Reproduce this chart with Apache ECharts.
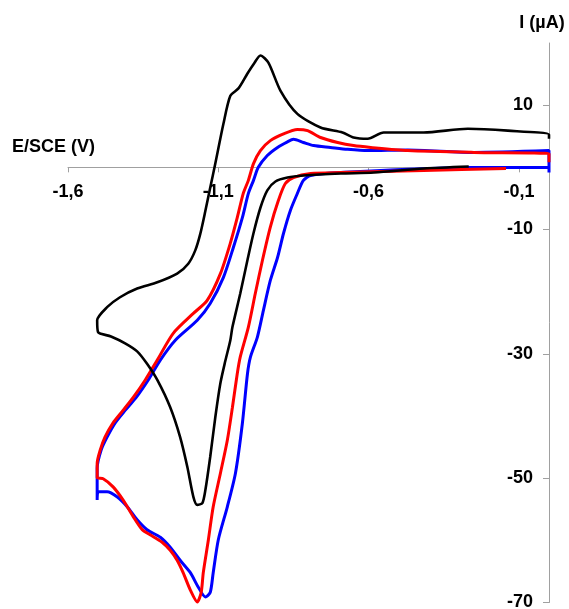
<!DOCTYPE html>
<html>
<head>
<meta charset="utf-8">
<style>
html,body{margin:0;padding:0;background:#fff;}
#chart{width:569px;height:609px;}
</style>
<script src="https://cdn.jsdelivr.net/npm/echarts@6/dist/echarts.min.js"></script>
</head>
<body>
<div id="chart"></div>
<script>
// Tick values
const xTickValues = [-1.6, -1.1, -0.6, -0.1];
const yTickValues = [-70, -50, -30, -10, 10];

// Black curve: potential (V) and current (µA)
const blackE = [-0.267,-0.417,-0.583,-0.693,-0.817,-0.87,-0.91,-0.937,-0.96,-0.983,-1.003,-1.027,-1.053,-1.06,-1.077,-1.093,-1.11,-1.127,-1.143,-1.153,-1.17,-1.183,-1.203,-1.227,-1.26,-1.303,-1.337,-1.37,-1.41,-1.457,-1.5,-1.503,-1.47,-1.427,-1.37,-1.303,-1.237,-1.2,-1.177,-1.16,-1.143,-1.127,-1.11,-1.083,-1.06,-1.033,-1.003,-0.98,-0.96,-0.933,-0.893,-0.837,-0.76,-0.687,-0.65,-0.603,-0.55,-0.417,-0.27,-0.137,0,0];
const blackI = [0.13,-0.19,-0.84,-1.0,-1.32,-1.64,-2.28,-3.7,-6.5,-10.6,-14.9,-20.3,-25.7,-27.8,-31.2,-34.7,-40.2,-46.6,-51.9,-54.0,-54.3,-53.0,-48.2,-43.4,-38.6,-34.2,-31.6,-29.6,-28.3,-27.2,-26.5,-24.6,-22.5,-20.9,-19.5,-18.5,-17.1,-15.5,-13.4,-10.7,-7.0,-3.3,0.6,7.0,11.5,12.7,15.1,16.8,18.0,16.8,12.3,8.6,6.4,5.6,4.8,4.6,5.6,5.6,6.2,5.9,5.3,4.6];

// Red curve
const redE = [-0.143,-0.417,-0.693,-0.793,-0.85,-0.877,-0.9,-0.927,-0.953,-0.977,-1.0,-1.027,-1.037,-1.053,-1.07,-1.093,-1.117,-1.133,-1.15,-1.157,-1.17,-1.193,-1.217,-1.237,-1.26,-1.287,-1.327,-1.353,-1.383,-1.417,-1.45,-1.483,-1.503,-1.503,-1.493,-1.477,-1.45,-1.417,-1.383,-1.343,-1.303,-1.25,-1.183,-1.137,-1.093,-1.06,-1.037,-1.017,-1.0,-0.983,-0.96,-0.927,-0.883,-0.837,-0.803,-0.76,-0.703,-0.65,-0.593,-0.47,-0.25,0,0];
const redI = [-0.19,-0.51,-0.84,-1.0,-1.64,-2.6,-5.3,-9.6,-14.9,-20.3,-25.7,-30.5,-33.2,-38.6,-43.9,-49.2,-54.6,-59.9,-65.2,-68.4,-69.9,-68.0,-65.2,-63.2,-61.6,-60.3,-59.1,-58.3,-56.2,-53.5,-51.4,-50.1,-49.9,-47.6,-45.5,-43.4,-41.1,-39.1,-37.0,-34.2,-31.0,-26.7,-23.5,-21.4,-17.1,-12.2,-8.1,-4.2,-2.1,0.6,2.7,4.3,5.4,6.1,5.9,4.8,4.0,3.5,3.2,2.7,2.4,2.2,0.8];

// Blue curve
const blueE = [0,-0.27,-0.693,-0.793,-0.817,-0.837,-0.86,-0.883,-0.903,-0.927,-0.95,-0.97,-0.993,-1.003,-1.02,-1.043,-1.07,-1.1,-1.117,-1.127,-1.143,-1.167,-1.193,-1.227,-1.26,-1.293,-1.337,-1.37,-1.403,-1.437,-1.47,-1.5,-1.503,-1.503,-1.49,-1.47,-1.443,-1.41,-1.373,-1.333,-1.293,-1.243,-1.17,-1.127,-1.083,-1.05,-1.02,-1.0,-0.983,-0.967,-0.937,-0.903,-0.87,-0.85,-0.817,-0.783,-0.727,-0.67,-0.603,-0.47,-0.25,0,0];
const blueI = [-0.03,-0.03,-0.83,-1.3,-2.1,-4.2,-6.9,-10.6,-14.5,-18.2,-23.0,-27.3,-30.5,-33.2,-41.2,-49.2,-54.6,-59.9,-65.2,-68.4,-69.1,-67.5,-65.2,-63.2,-61.1,-59.5,-58.3,-56.7,-54.6,-53.0,-52.2,-52.2,-53.5,-48.4,-45.5,-43.4,-41.1,-39.1,-37.0,-34.2,-31.0,-27.8,-24.6,-21.9,-17.7,-12.9,-8.1,-4.2,-2.1,0,1.9,3.2,4.1,4.5,4.0,3.5,3.2,2.9,2.7,2.8,2.4,2.7,-0.83];

function pairs(e, i) { return e.map((v, k) => [v, i[k]]); }

const W = 569, H = 609;
const gridTop = 43, gridBottom = 6.5;
const yMin = -70, yMax = 20;
// pixel distance from grid bottom up to the I = 0 line
const zeroOffset = (H - gridTop - gridBottom) * (0 - yMin) / (yMax - yMin);

const chart = echarts.init(document.getElementById('chart'), null, {renderer: 'canvas'});
const labelFont = {color: '#000', fontWeight: 'bold', fontSize: 18, fontFamily: '"Liberation Sans", Arial, sans-serif'};

chart.setOption({
  animation: false,
  grid: {left: 68, right: 20, top: gridTop, bottom: gridBottom, containLabel: false, outerBoundsMode: 'none'},
  xAxis: {
    type: 'value',
    min: xTickValues[0], max: 0,
    interval: 0.5,
    position: 'bottom',
    offset: -zeroOffset,
    name: 'E/SCE (V)',
    nameLocation: 'start',
    nameGap: 56,
    nameTextStyle: Object.assign({}, labelFont, {align: 'left', verticalAlign: 'bottom', padding: [0, 0, 11, 0]}),
    axisLine: {onZero: false, lineStyle: {color: '#a0a0a0', width: 1}},
    axisTick: {show: true, length: 5, lineStyle: {color: '#a0a0a0'}},
    axisLabel: Object.assign({}, labelFont, {show: true, margin: 16, showMaxLabel: false, showMinLabel: true, hideOverlap: false,
      formatter: function (v) { return String(Math.round(v * 10) / 10).replace('.', ','); }}),
    splitLine: {show: false}
  },
  yAxis: {
    type: 'value',
    min: yMin, max: yMax,
    position: 'right',
    name: 'I (µA)',
    nameLocation: 'end',
    nameGap: 11,
    nameTextStyle: Object.assign({}, labelFont, {align: 'center', verticalAlign: 'bottom', padding: [0, 14, 0, 0]}),
    axisLine: {onZero: false, lineStyle: {color: '#a0a0a0', width: 1}},
    axisTick: {show: true, inside: true, length: 6, customValues: yTickValues, lineStyle: {color: '#a0a0a0'}},
    axisLabel: Object.assign({}, labelFont, {inside: true, margin: 16, customValues: yTickValues}),
    splitLine: {show: false}
  },
  series: [
    {type: 'line', data: pairs(blueE, blueI), showSymbol: false, smooth: 0.25, lineStyle: {color: '#0000ff', width: 3}, itemStyle: {color: '#0000ff'}},
    {type: 'line', data: pairs(redE, redI), showSymbol: false, smooth: 0.25, lineStyle: {color: '#ff0000', width: 3}, itemStyle: {color: '#ff0000'}},
    {type: 'line', data: pairs(blackE, blackI), showSymbol: false, smooth: 0.25, lineStyle: {color: '#000000', width: 2.6}, itemStyle: {color: '#000000'}}
  ]
});
</script>
</body>
</html>
